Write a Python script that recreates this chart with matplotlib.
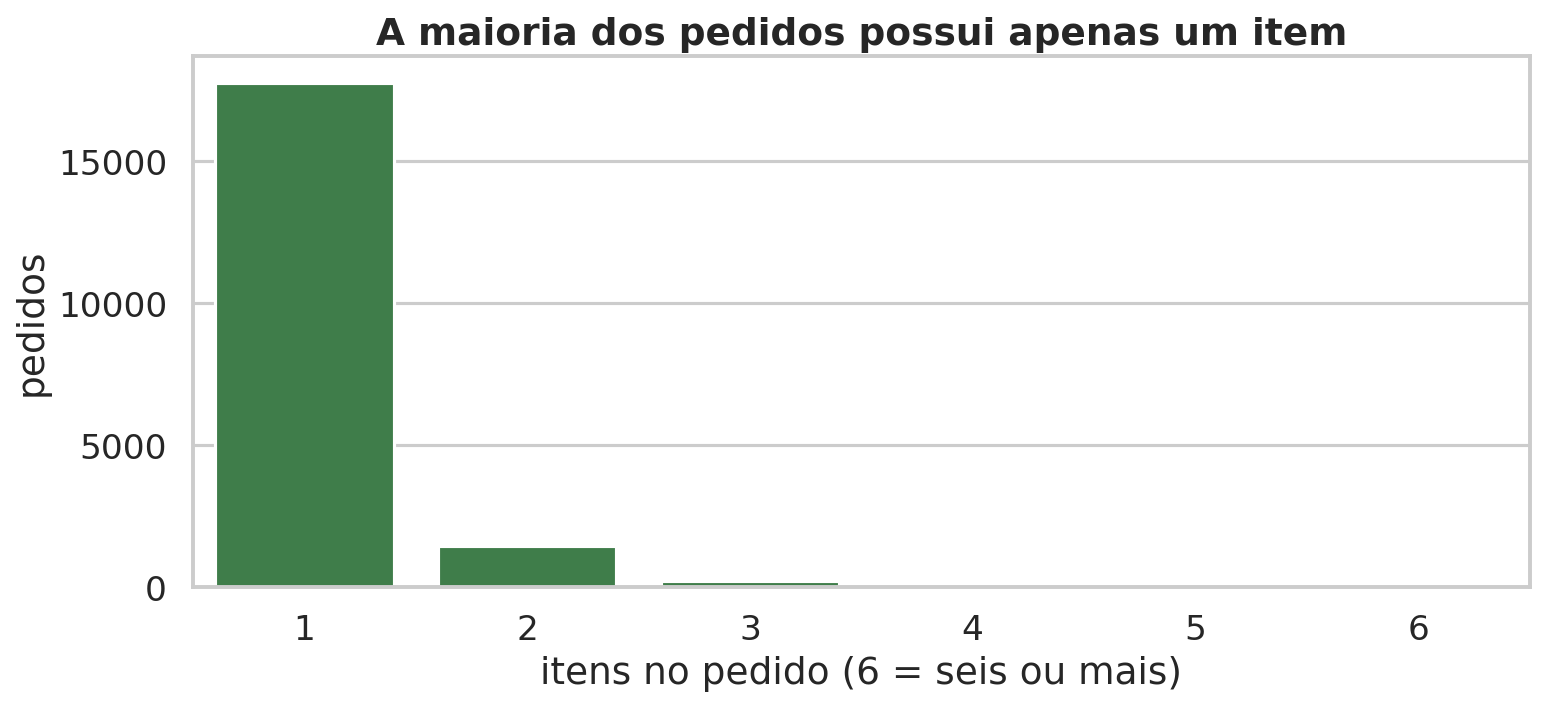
import matplotlib
matplotlib.use("Agg")
import matplotlib.pyplot as plt
import seaborn as sns

itens = ["1", "2", "3", "4", "5", "6"]
pedidos = [17750, 1450, 230, 45, 15, 20]

sns.set_theme(style="whitegrid", context="talk")
fig, ax = plt.subplots(figsize=(10.3, 4.753), dpi=150)
sns.barplot(x=itens, y=pedidos, color="#3f7d4a", saturation=1, ax=ax)
ax.set_title("A maioria dos pedidos possui apenas um item", fontweight="bold")
ax.set_xlabel("itens no pedido (6 = seis ou mais)")
ax.set_ylabel("pedidos")
ax.set_yticks([0, 5000, 10000, 15000])
ax.set_ylim(0, 18700)
fig.subplots_adjust(left=0.125, right=0.99, top=0.92, bottom=0.175)
fig.savefig("out.png")
